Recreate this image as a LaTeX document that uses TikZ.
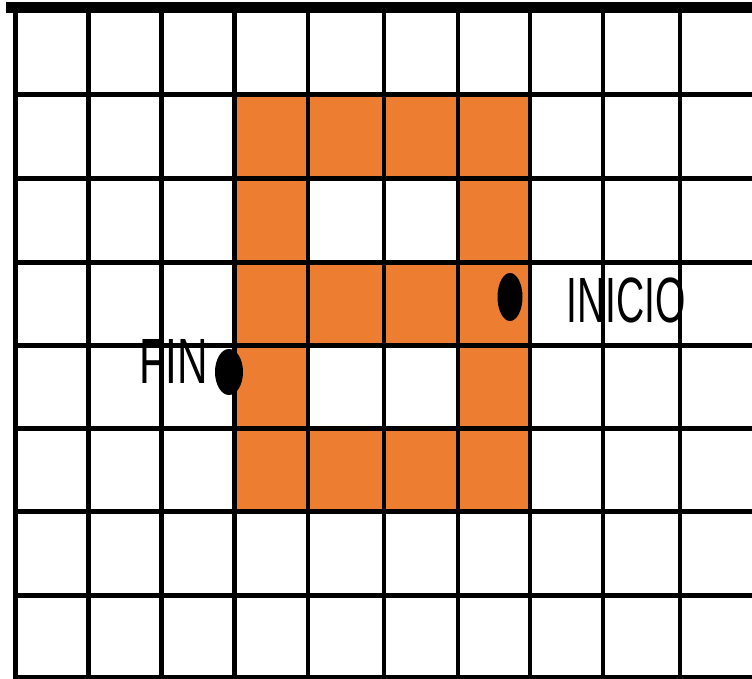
\documentclass[tikz,border=0pt]{standalone}
\usepackage{fontspec}
\setmainfont{Liberation Sans}
\definecolor{cellorange}{HTML}{ED7D31}
\begin{document}
\begin{tikzpicture}[x=1pt, y=-1pt, line width=4.5pt]
            \useasboundingbox (0,0) rectangle (752,679);
            % orange cells, with the two holes left white
            \fill[cellorange, even odd rule] (234.5,94.5) rectangle (530,511)
                (308,179) rectangle (458,262) (308,345) rectangle (458,428);
            \node[anchor=base, inner sep=0pt, xscale=0.61, font=\fontsize{64}{64}\selectfont] (inicio) at (626,322) {INICIO};
            \node[anchor=base, inner sep=0pt, xscale=0.66, font=\fontsize{64}{64}\selectfont] (fin) at (174,383) {FIN};
            % grid
            \foreach \x in {15.7, 88.7, 161.7, 234.5, 308, 384, 458, 530, 603, 680}
                \draw (\x,7) -- (\x,679);
            \foreach \y in {94.5, 179, 262, 345, 428, 511, 595, 677.5}
                \draw[line width=5pt] (15.7,\y) -- (752,\y);
            \draw[line width=11pt] (6,7.3) -- (752,7.3);
            % start and end points
            \fill (510,297) ellipse [x radius=12.5pt, y radius=24pt];
            \fill (229,372) ellipse [x radius=14pt, y radius=23pt];
        \end{tikzpicture}
\end{document}
